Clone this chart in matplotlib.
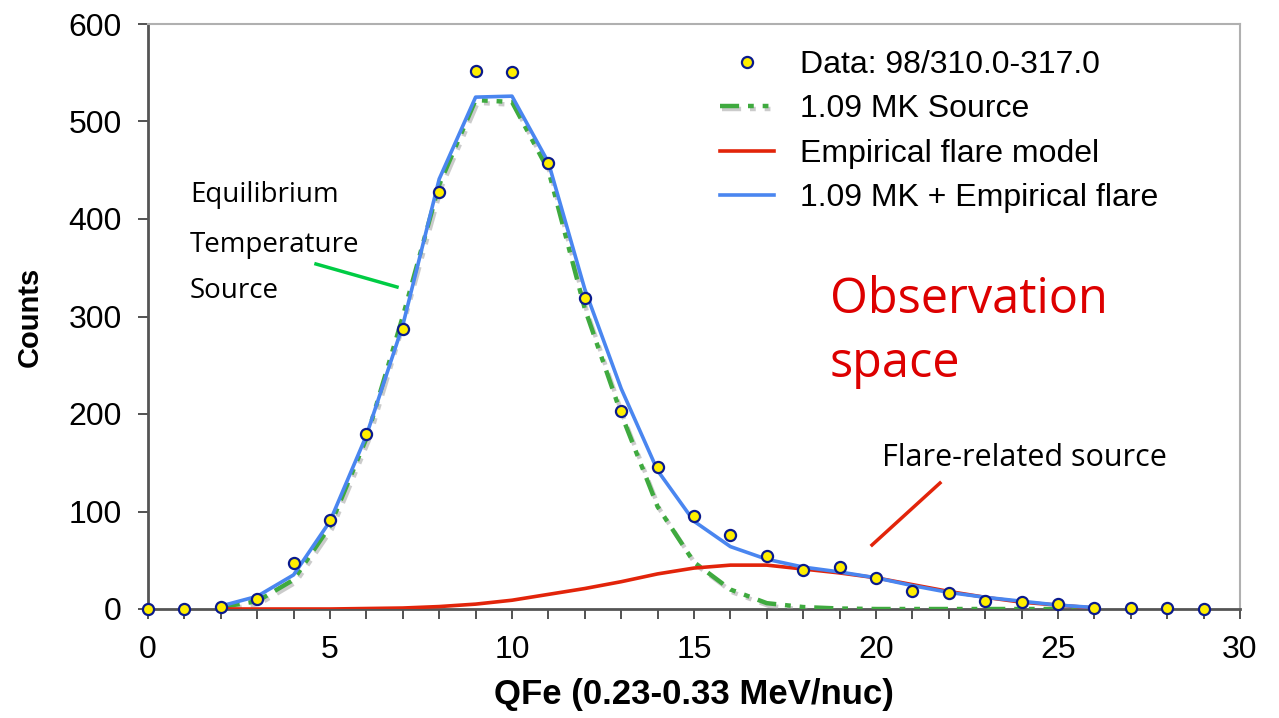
import numpy as np
import matplotlib.pyplot as plt
import matplotlib.patheffects as pe

# QFe-Verteilung: Messpunkte und Modellkurven
q_data = list(range(0, 30))
counts = [0, 0, 2, 10, 47, 91, 179, 287, 428, 552,
          551, 457, 319, 203, 146, 95, 76, 54, 40, 43,
          32, 18, 16, 8, 7, 5, 1, 1, 1, 0]

q_model = list(range(2, 27))
source_mk = [2, 8, 30, 85, 175, 300, 435, 522, 520, 450,
             308, 200, 105, 48, 20, 6, 2, 0.5, 0, 0,
             0, 0, 0, 0, 0]
flare = [0, 0, 0, 0, 0.5, 1, 2.5, 5, 9, 15,
         21, 28, 36, 42, 45, 45, 41, 37, 32, 25,
         18, 12, 7, 4, 1]
total = [3, 13, 35, 90, 178, 291, 441, 525, 526, 458,
         328, 226, 142, 90, 64, 51, 43, 38, 32, 24,
         17, 12, 8, 4, 1.5]

labels = ['Data: 98/310.0-317.0', '1.09 MK Source',
          'Empirical flare model', '1.09 MK + Empirical flare']

plt.rcParams['font.family'] = ['Liberation Sans', 'DejaVu Sans']

W, H = 1279, 718
fig = plt.figure(figsize=(W / 100, H / 100), dpi=100)
ax = fig.add_axes([148 / W, 1 - 609 / H, 1092 / W, 585 / H])

ax.plot(q_model, source_mk, color='#3faa3f', lw=3.2,
        dashes=(4.3, 2, 1.3, 2, 1.3, 2), label=labels[1], zorder=3,
        path_effects=[pe.SimpleLineShadow(offset=(1.5, -2), shadow_color='#999999', alpha=0.5),
                      pe.Normal()])
ax.plot(q_model, flare, color='#e2240a', lw=2.6, label=labels[2], zorder=4)
ax.plot(q_model, total, color='#4a86f0', lw=2.6, label=labels[3], zorder=5)
ax.plot(q_data, counts, 'o', ms=8, mfc='#ffee00', mec='#0a1a8c', mew=1.6,
        label=labels[0], zorder=6, clip_on=False)

ax.set_xlim(0, 30)
ax.set_ylim(0, 600)
ax.set_xticks(range(0, 31))
ax.set_xticklabels([str(v) if v % 5 == 0 else '' for v in range(0, 31)])
ax.set_yticks(range(0, 601, 100))
ax.tick_params(axis='both', labelsize=23, direction='out', length=7,
               width=1.3, color='#444444', pad=12)

for s in ['left', 'bottom']:
    ax.spines[s].set_color('#555555')
    ax.spines[s].set_linewidth(2)
for s in ['top', 'right']:
    ax.spines[s].set_color('#b0b0b0')
    ax.spines[s].set_linewidth(1.5)

ax.set_xlabel('QFe (0.23-0.33 MeV/nuc)', fontsize=25, fontweight='bold')
ax.set_ylabel('Counts', fontsize=21, fontweight='bold')
ax.xaxis.set_label_coords(0.5, -(678 - 609) / 585)
ax.yaxis.set_label_coords((44 - 148) / 1092, 0.5)

# Legende ohne Rahmen
h, l = ax.get_legend_handles_labels()
order = [3, 0, 1, 2]
fig.legend([h[i] for i in order], [l[i] for i in order],
           loc='upper left', bbox_to_anchor=(720 / W, 1 - 50 / H), frameon=False,
           fontsize=23, handlelength=1.7, handletextpad=0.8, labelspacing=0.45,
           borderpad=0, borderaxespad=0)

# Beschriftungen im Diagramm
txt = dict(family=['Open Sans', 'DejaVu Sans'], fontsize=20, color='black')
fig.text(190 / W, 1 - 195 / H, 'Equilibrium', va='center', **txt)
fig.text(190 / W, 1 - 245 / H, 'Temperature', va='center', **txt)
fig.text(190 / W, 1 - 291 / H, 'Source', va='center', **txt)
fig.add_artist(plt.Line2D([316 / W, 397 / W], [1 - 264 / H, 1 - 287 / H],
                          color='#00cc44', lw=2.5))

red_txt = dict(family=['Open Sans', 'DejaVu Sans'], fontsize=35, color='#dd0000')
fig.text(830 / W, 1 - 300 / H, 'Observation', va='center', **red_txt)
fig.text(830 / W, 1 - 364 / H, 'space', va='center', **red_txt)

fig.text(882 / W, 1 - 458 / H, 'Flare-related source', va='center',
         **dict(txt, fontsize=22))
fig.add_artist(plt.Line2D([940 / W, 872 / W], [1 - 483 / H, 1 - 545 / H],
                          color='#e2240a', lw=2.5))

fig.savefig('out.png', dpi=100)
